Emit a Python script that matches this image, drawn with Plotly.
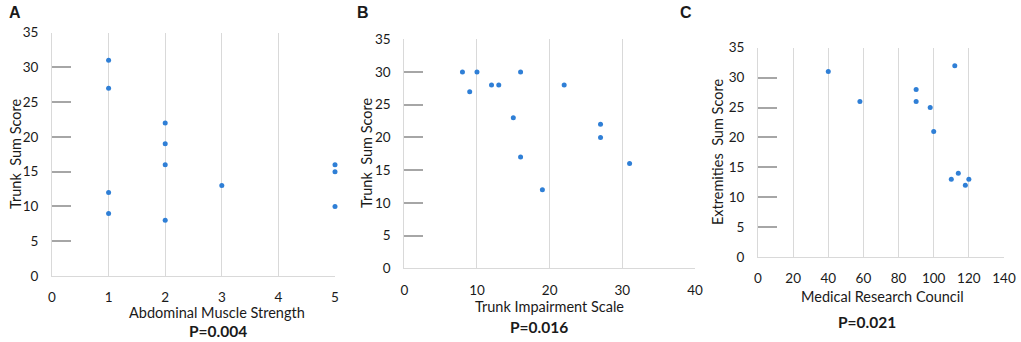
import plotly.graph_objects as go

# Panel A: Abdominal Muscle Strength vs Trunk Sum Score
a_x = [1, 1, 1, 1, 2, 2, 2, 2, 3, 5, 5, 5]
a_y = [31, 27, 12, 9, 22, 19, 16, 8, 13, 16, 15, 10]
# Panel B: Trunk Impairment Scale vs Trunk Sum Score
b_x = [8, 9, 10, 12, 13, 15, 16, 16, 19, 22, 27, 27, 31]
b_y = [30, 27, 30, 28, 28, 23, 30, 17, 12, 28, 22, 20, 16]
# Panel C: Medical Research Council vs Extremities Sum Score
c_x = [40, 58, 90, 90, 98, 100, 112, 110, 114, 120, 118]
c_y = [31, 26, 28, 26, 25, 21, 32, 13, 14, 13, 12]

panel_letters = ["A", "B", "C"]
x_titles = ["Abdominal Muscle Strength", "Trunk Impairment Scale", "Medical Research Council"]
y_titles = ["Trunk  Sum Score", "Trunk  Sum Score", "Extremities  Sum Score"]
p_labels = ["P=0.004", "P=0.016", "P=0.021"]
x_ranges = [[0, 5], [0, 40], [0, 140]]
x_dticks = [1, 10, 20]
y_range = [0, 35]
y_dtick = 5

W, H = 1021, 342
FONT = "Lato, Carlito, Calibri, sans-serif"
TXT = "#1a1a1a"
DOT = "#2f7fd6"

# pixel boxes: (left, right, top, bottom)
boxes = [(52, 335, 32.5, 276), (404.3, 695, 39.3, 268.3), (758, 1004, 47.7, 257)]

fig = go.Figure()
data = [(a_x, a_y), (b_x, b_y), (c_x, c_y)]
for i, (xs, ys) in enumerate(data):
    n = "" if i == 0 else str(i + 1)
    fig.add_trace(go.Scatter(x=xs, y=ys, mode="markers", xaxis="x" + n, yaxis="y" + n,
                             marker=dict(size=5, color=DOT), cliponaxis=False,
                             showlegend=False, hoverinfo="x+y"))
    l, r, t, b = boxes[i]
    fig.update_layout(**{
        "xaxis" + n: dict(domain=[l / W, r / W], range=x_ranges[i], dtick=x_dticks[i], tick0=0,
                          showgrid=True, gridcolor="#d9d9d9", gridwidth=1, zeroline=False,
                          showline=True, linecolor="#d9d9d9", linewidth=1, ticks="",
                          anchor="y" + n, ticklabelstandoff=9, automargin=False,
                          tickfont=dict(family=FONT, size=13.5, color=TXT)),
        "yaxis" + n: dict(domain=[1 - b / H, 1 - t / H], range=y_range, dtick=y_dtick, tick0=0,
                          showgrid=False, zeroline=False, showline=True, linecolor="#d9d9d9",
                          linewidth=1, ticks="inside", ticklen=19, tickcolor="#a6a6a6",
                          tickwidth=1.5, anchor="x" + n, ticklabelstandoff=10, automargin=False,
                          tickfont=dict(family=FONT, size=13.5, color=TXT)),
    })

annotations = []
letter_pos = [(15, 13), (363, 13), (686, 13)]
xt_pos = [(217, 312.5), (549, 306), (882, 296)]
p_pos = [(218, 330.5), (539, 327), (867, 322)]
yt_pos = [(16, 154), (366, 153), (717, 152)]
for i in range(3):
    annotations.append(dict(text="<b>%s</b>" % panel_letters[i], x=letter_pos[i][0] / W,
                            y=1 - letter_pos[i][1] / H, xref="paper", yref="paper",
                            showarrow=False, xanchor="center", yanchor="middle",
                            font=dict(family="Liberation Sans, Arial", size=16, color=TXT)))
    annotations.append(dict(text=x_titles[i], x=xt_pos[i][0] / W, y=1 - xt_pos[i][1] / H,
                            xref="paper", yref="paper", showarrow=False, xanchor="center",
                            yanchor="middle", font=dict(family=FONT, size=14.5, color=TXT)))
    annotations.append(dict(text="<b>%s</b>" % p_labels[i], x=p_pos[i][0] / W, y=1 - p_pos[i][1] / H,
                            xref="paper", yref="paper", showarrow=False, xanchor="center",
                            yanchor="middle", font=dict(family=FONT, size=15.5, color=TXT)))
    annotations.append(dict(text=y_titles[i], x=yt_pos[i][0] / W, y=1 - yt_pos[i][1] / H,
                            xref="paper", yref="paper", showarrow=False, xanchor="center",
                            yanchor="middle", textangle=-90,
                            font=dict(family=FONT, size=14.5, color=TXT)))

fig.update_layout(width=W, height=H, margin=dict(l=0, r=0, t=0, b=0, autoexpand=False),
                  paper_bgcolor="white", plot_bgcolor="white", annotations=annotations)
fig.write_html("out.html", config={"displayModeBar": False},
               post_script="document.body.style.margin='0';document.body.style.overflow='hidden';")
